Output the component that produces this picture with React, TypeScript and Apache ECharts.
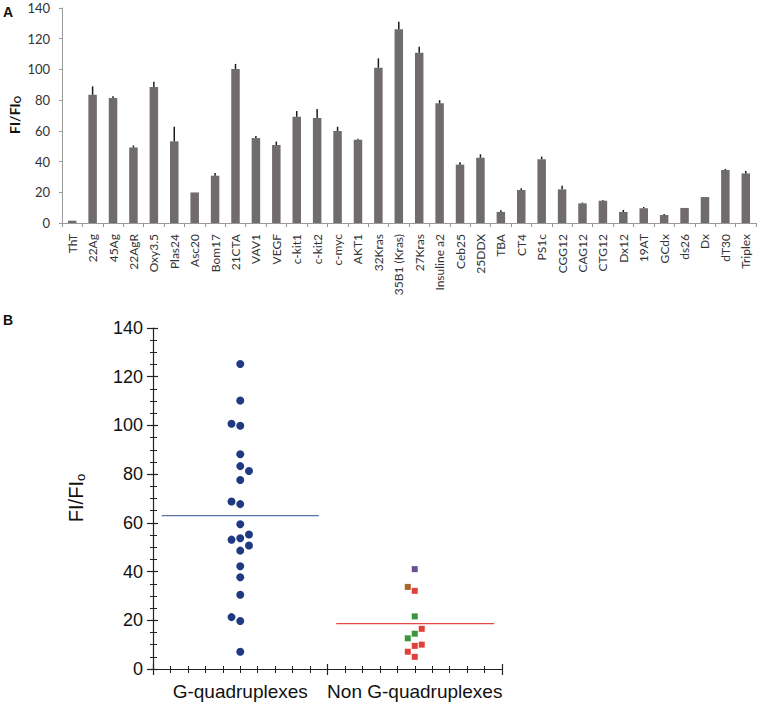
import React, { useEffect, useRef } from "react";
import * as echarts from "echarts";

// Panel A data
const categories = [
  "ThT", "22Ag", "45Ag", "22AgR", "Oxy3.5", "Plas24", "Asc20", "Bom17", "21CTA", "VAV1",
  "VEGF", "c-kit1", "c-kit2", "c-myc", "AKT1", "32Kras", "35B1 (Kras)", "27Kras", "Insuline a2", "Ceb25",
  "25DDX", "TBA", "CT4", "PS1c", "CGG12", "CAG12", "CTG12", "Dx12", "19AT", "GCdx",
  "ds26", "Dx", "dT30", "Triplex",
];
const values = [
  1.5, 83.5, 81.4, 49.2, 88.6, 53.2, 19.9, 30.8, 100.3, 55.3,
  50.8, 69.2, 68.3, 59.9, 54.2, 101.1, 126.1, 110.9, 77.9, 38.0,
  42.5, 7.2, 21.5, 41.5, 21.9, 12.8, 14.5, 7.2, 9.6, 5.2,
  9.8, 16.9, 34.5, 32.3,
];
const errors = [
  0, 5.5, 1.1, 1.3, 3.3, 9.5, 0, 1.8, 3.3, 1.3,
  2.2, 3.7, 5.9, 2.8, 0.6, 6.1, 4.9, 3.9, 2.1, 1.5,
  2.2, 1.1, 1.1, 1.7, 2.4, 0.5, 0.4, 1.3, 0.8, 0.7,
  0, 0, 0.7, 1.5,
];

// Panel B data
const groupLabels = ["G-quadruplexes", "Non G-quadruplexes"];
const gqValues = [125.2, 110.2, 100.7, 99.9, 88.2, 83.3, 81.3, 77.6, 68.8, 67.7, 59.4, 55.2, 53.1, 53.7, 50.7, 48.6, 42.2, 37.7, 30.5, 21.3, 19.7, 7.1];
const gqSide = [0, 0, -1, 0, 0, 0, 1, 0, -1, 0, 0, 1, -1, 0, 1, 0, 0, 0, 0, -1, 0, 0];
const ngValues = [41.0, 33.7, 32.1, 21.6, 16.5, 14.5, 12.6, 10.0, 9.5, 7.1, 5.0];
const ngSide = [0, -1, 0, 0, 1, 0, -1, 1, 0, -1, 0];
const ngColors = ["#6b4f96", "#a8652c", "#e0403a", "#3a963c", "#e0403a", "#3a963c", "#3a963c", "#e0403a", "#e0403a", "#e0403a", "#e0403a"];
const gqMean = 63.0;
const ngMean = 18.6;

export default function App() {
  const ref = useRef<HTMLDivElement>(null);
  useEffect(() => {
    if (!ref.current) return;
    const chart = echarts.init(ref.current, undefined, { renderer: "svg" });
    const fontA = "Lato";
    const fontB = "Liberation Sans";
    const minorB = (inside: boolean, showLine: boolean) => ({
      axisLine: { show: showLine, lineStyle: { color: "#222", width: 1.2 } },
      axisTick: { show: true, inside, length: inside ? 5 : 6, lineStyle: { color: "#222", width: 1.2 } },
      splitLine: { show: false },
      minorSplitLine: { show: false },
    });
    const option: any = {
      animation: false,
      backgroundColor: "#ffffff",
      grid: [
        { left: 62, top: 8, width: 694, height: 215, containLabel: false },
        { left: 153, top: 328, width: 349, height: 341, containLabel: false },
      ],
      xAxis: [
        {
          type: "category",
          gridIndex: 0,
          data: categories,
          axisLine: { lineStyle: { color: "#9a9a9a", width: 1 } },
          axisTick: { show: true, length: 4, lineStyle: { color: "#9a9a9a" } },
          axisLabel: { interval: 0, rotate: 90, margin: 11, fontSize: 12, fontFamily: fontA, color: "#333" },
        },
        {
          type: "value",
          gridIndex: 1,
          min: 0,
          max: 20,
          interval: 10,
          position: "bottom",
          ...minorB(false, true),
          minorTick: { show: true, splitNumber: 10, length: 4, lineStyle: { color: "#222", width: 1 } },
          axisLabel: { show: false },
        },
        {
          type: "value",
          gridIndex: 1,
          min: 0,
          max: 20,
          interval: 10,
          position: "bottom",
          ...minorB(true, false),
          minorTick: { show: true, splitNumber: 10, length: 3, lineStyle: { color: "#222", width: 1 } },
          axisLabel: { show: false },
        },
        {
          type: "category",
          gridIndex: 1,
          position: "bottom",
          data: groupLabels,
          axisLine: { show: false },
          axisTick: { show: false },
          axisLabel: { interval: 0, hideOverlap: false, margin: 13, fontSize: 19, fontFamily: fontB, color: "#111" },
        },
      ],
      yAxis: [
        {
          type: "value",
          gridIndex: 0,
          min: 0,
          max: 140,
          interval: 20,
          axisLine: { show: true, lineStyle: { color: "#9a9a9a" } },
          axisTick: { show: true, length: 3, lineStyle: { color: "#9a9a9a" } },
          splitLine: { show: false },
          axisLabel: { margin: 12, fontSize: 13, fontFamily: fontA, color: "#333" },
        },
        {
          type: "value",
          gridIndex: 1,
          min: 0,
          max: 140,
          interval: 20,
          position: "left",
          ...minorB(false, true),
          minorTick: { show: true, splitNumber: 4, length: 3, lineStyle: { color: "#222", width: 1 } },
          axisLabel: { margin: 10, fontSize: 18, fontFamily: fontB, color: "#111" },
        },
        {
          type: "value",
          gridIndex: 1,
          min: 0,
          max: 140,
          interval: 20,
          position: "left",
          ...minorB(true, false),
          minorTick: { show: true, splitNumber: 4, length: 4, lineStyle: { color: "#222", width: 1 } },
          axisLabel: { show: false },
        },
      ],
      series: [
        {
          type: "bar",
          xAxisIndex: 0,
          yAxisIndex: 0,
          data: values,
          barWidth: 8.5,
          itemStyle: { color: "#716c6c" },
        },
        {
          type: "custom",
          xAxisIndex: 0,
          yAxisIndex: 0,
          data: values.map((v, i) => [i, v, v + errors[i]]),
          encode: { x: 0, y: [1, 2] },
          renderItem: (params: any, api: any) => {
            const lo = api.value(1);
            const hi = api.value(2);
            if (hi <= lo) return null;
            const a = api.coord([api.value(0), lo]);
            const b = api.coord([api.value(0), hi]);
            return {
              type: "line",
              shape: { x1: a[0], y1: a[1], x2: b[0], y2: b[1] },
              style: { stroke: "#1a1a1a", lineWidth: 1.5 },
            };
          },
          z: 3,
        },
        {
          type: "line",
          xAxisIndex: 1,
          yAxisIndex: 1,
          data: [[0.5, gqMean], [9.5, gqMean]],
          symbol: "none",
          lineStyle: { color: "#5a74a8", width: 1.3 },
        },
        {
          type: "line",
          xAxisIndex: 1,
          yAxisIndex: 1,
          data: [[10.5, ngMean], [19.55, ngMean]],
          symbol: "none",
          lineStyle: { color: "#e34a44", width: 1.3 },
        },
        {
          type: "scatter",
          xAxisIndex: 1,
          yAxisIndex: 1,
          symbol: "circle",
          symbolSize: 8,
          itemStyle: { color: "#1f3a80", opacity: 1 },
          data: gqValues.map((v, i) => [5 + gqSide[i] * 0.5, v]),
          z: 4,
        },
        {
          type: "scatter",
          xAxisIndex: 1,
          yAxisIndex: 1,
          symbol: "rect",
          symbolSize: 6,
          data: ngValues.map((v, i) => ({ value: [15 + ngSide[i] * 0.4, v], itemStyle: { color: ngColors[i], opacity: 1 } })),
          z: 4,
        },
      ],
      graphic: [
        {
          type: "text",
          left: 3,
          top: 5,
          style: { text: "A", font: "bold 14px 'Liberation Sans'", fill: "#111" },
        },
        {
          type: "text",
          left: 3,
          top: 313,
          style: { text: "B", font: "bold 14px 'Liberation Sans'", fill: "#111" },
        },
        {
          type: "text",
          x: 14,
          y: 115,
          rotation: Math.PI / 2,
          style: {
            text: "{a|FI/FI}{b|O}",
            align: "center",
            verticalAlign: "middle",
            fill: "#111",
            rich: {
              a: { fontFamily: fontA, fontWeight: "bold", fontSize: 14, lineHeight: 16, fill: "#111" },
              b: { fontFamily: fontA, fontWeight: "bold", fontSize: 9, lineHeight: 10, verticalAlign: "bottom", fill: "#111" },
            },
          },
        },
        {
          type: "text",
          x: 76,
          y: 498,
          rotation: Math.PI / 2,
          style: {
            text: "{a|FI/FI}{b|o}",
            align: "center",
            verticalAlign: "middle",
            fill: "#111",
            rich: {
              a: { fontFamily: fontB, fontSize: 20, lineHeight: 22, fill: "#111" },
              b: { fontFamily: fontB, fontSize: 13, lineHeight: 14, verticalAlign: "bottom", fill: "#111" },
            },
          },
        },
      ],
    };
    chart.setOption(option);
    return () => chart.dispose();
  }, []);
  return (
    <div
      ref={ref}
      style={{ position: "fixed", left: 0, top: 0, width: 760, height: 706, background: "#fff" }}
    />
  );
}
